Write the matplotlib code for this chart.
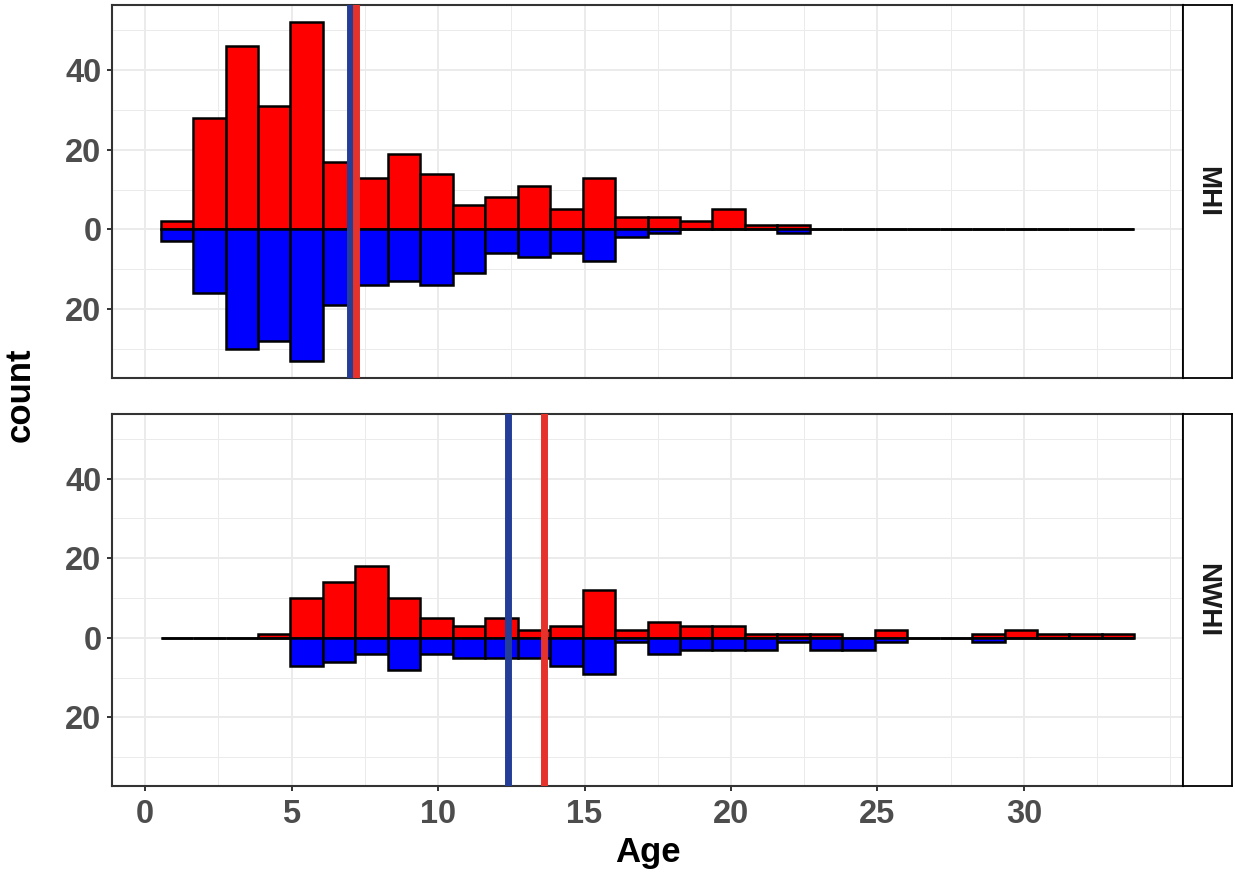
import numpy as np
import matplotlib.pyplot as plt
from matplotlib.ticker import FuncFormatter, MultipleLocator, FixedLocator

plt.rcParams['font.family'] = ['Liberation Sans', 'DejaVu Sans']
plt.rcParams['font.weight'] = 'bold'

# histogram binning (30 bins over the age range)
age_min = 0.53
age_max = 33.77
n_bins = 30

# counts per bin, upper (red) and lower (blue) halves
mhi_red = [2, 28, 46, 31, 52, 17, 13, 19, 14, 6, 8, 11, 5, 13, 3,
           3, 2, 5, 1, 1, 0, 0, 0, 0, 0, 0, 0, 0, 0, 0]
mhi_blue = [3, 16, 30, 28, 33, 19, 14, 13, 14, 11, 6, 7, 6, 8, 2,
            1, 0, 0, 0, 1, 0, 0, 0, 0, 0, 0, 0, 0, 0, 0]
nwhi_red = [0, 0, 0, 1, 10, 14, 18, 10, 5, 3, 5, 2, 3, 12, 2,
            4, 3, 3, 1, 1, 1, 0, 2, 0, 0, 1, 2, 1, 1, 1]
nwhi_blue = [0, 0, 0, 0, 7, 6, 4, 8, 4, 5, 5, 5, 7, 9, 1,
             4, 3, 3, 3, 1, 3, 3, 1, 0, 0, 1, 0, 0, 0, 0]

# mean ages
mhi_means = {'blue': 7.0, 'red': 7.2}
nwhi_means = {'blue': 12.4, 'red': 13.6}

x_ticks = [0, 5, 10, 15, 20, 25, 30]
regions = ['MHI', 'NWHI']
panels = [(mhi_red, mhi_blue, mhi_means), (nwhi_red, nwhi_blue, nwhi_means)]

edges = np.linspace(age_min, age_max, n_bins + 1)
bw = edges[1] - edges[0]

W, H = 1235, 873
fig = plt.figure(figsize=(W / 100, H / 100), dpi=100)

px_left, px_right = 112, 1183
px_rows = [(5, 378), (414, 786)]

line_cols = {'blue': '#243E98', 'red': '#E5322A'}
grid_col = '#EBEBEB'
frame_col = '#333333'

axs = []
for i, (top, bot) in enumerate(px_rows):
    ax = fig.add_axes([px_left / W, 1 - bot / H, (px_right - px_left) / W, (bot - top) / H])
    red, blue, means = panels[i]

    ax.bar(edges[:-1], red, width=bw, align='edge', color='#FF0000',
           edgecolor='black', lw=1.8, zorder=2)
    ax.bar(edges[:-1], -np.array(blue), width=bw, align='edge', color='#0000FF',
           edgecolor='black', lw=1.8, zorder=2)

    ax.axvline(means['blue'], color=line_cols['blue'], lw=5, zorder=3)
    ax.axvline(means['red'], color=line_cols['red'], lw=5, zorder=4)

    ax.set_xlim(-1.13, 35.43)
    ax.set_ylim(-37.25, 56.25)

    ax.xaxis.set_major_locator(FixedLocator(x_ticks))
    ax.xaxis.set_minor_locator(MultipleLocator(2.5))
    ax.yaxis.set_major_locator(MultipleLocator(20))
    ax.yaxis.set_minor_locator(MultipleLocator(10))
    ax.yaxis.set_major_formatter(FuncFormatter(lambda v, p: '%d' % abs(v)))

    ax.grid(which='major', color=grid_col, lw=1.4)
    ax.grid(which='minor', color=grid_col, lw=0.7)
    ax.set_axisbelow(True)

    for s in ax.spines.values():
        s.set_color(frame_col)
        s.set_linewidth(1.5)

    ax.tick_params(which='major', direction='out', length=3.6, width=1.4,
                   color=frame_col, labelsize=23.5, labelcolor='#4D4D4D', pad=4)
    ax.tick_params(axis='x', which='major', pad=6)
    ax.tick_params(which='minor', length=0)

    # facet strip on the right
    sax = fig.add_axes([px_right / W, 1 - bot / H, 49 / W, (bot - top) / H])
    sax.set_xticks([])
    sax.set_yticks([])
    for s in sax.spines.values():
        s.set_color('black')
        s.set_linewidth(1.3)
    sax.text(0.5, 0.5, regions[i], rotation=-90, ha='center', va='center',
             fontsize=20, fontweight='bold', color='#1A1A1A', transform=sax.transAxes)

    axs.append(ax)

axs[0].tick_params(axis='x', which='both', bottom=False, labelbottom=False)
axs[1].set_xlabel('Age', fontsize=25, fontweight='bold', color='black', labelpad=4)

fig.text(20 / W, 1 - 395 / H, 'count', rotation=90, ha='center', va='center',
         fontsize=25, fontweight='bold', color='black')

plt.savefig('out.png', dpi=100)
